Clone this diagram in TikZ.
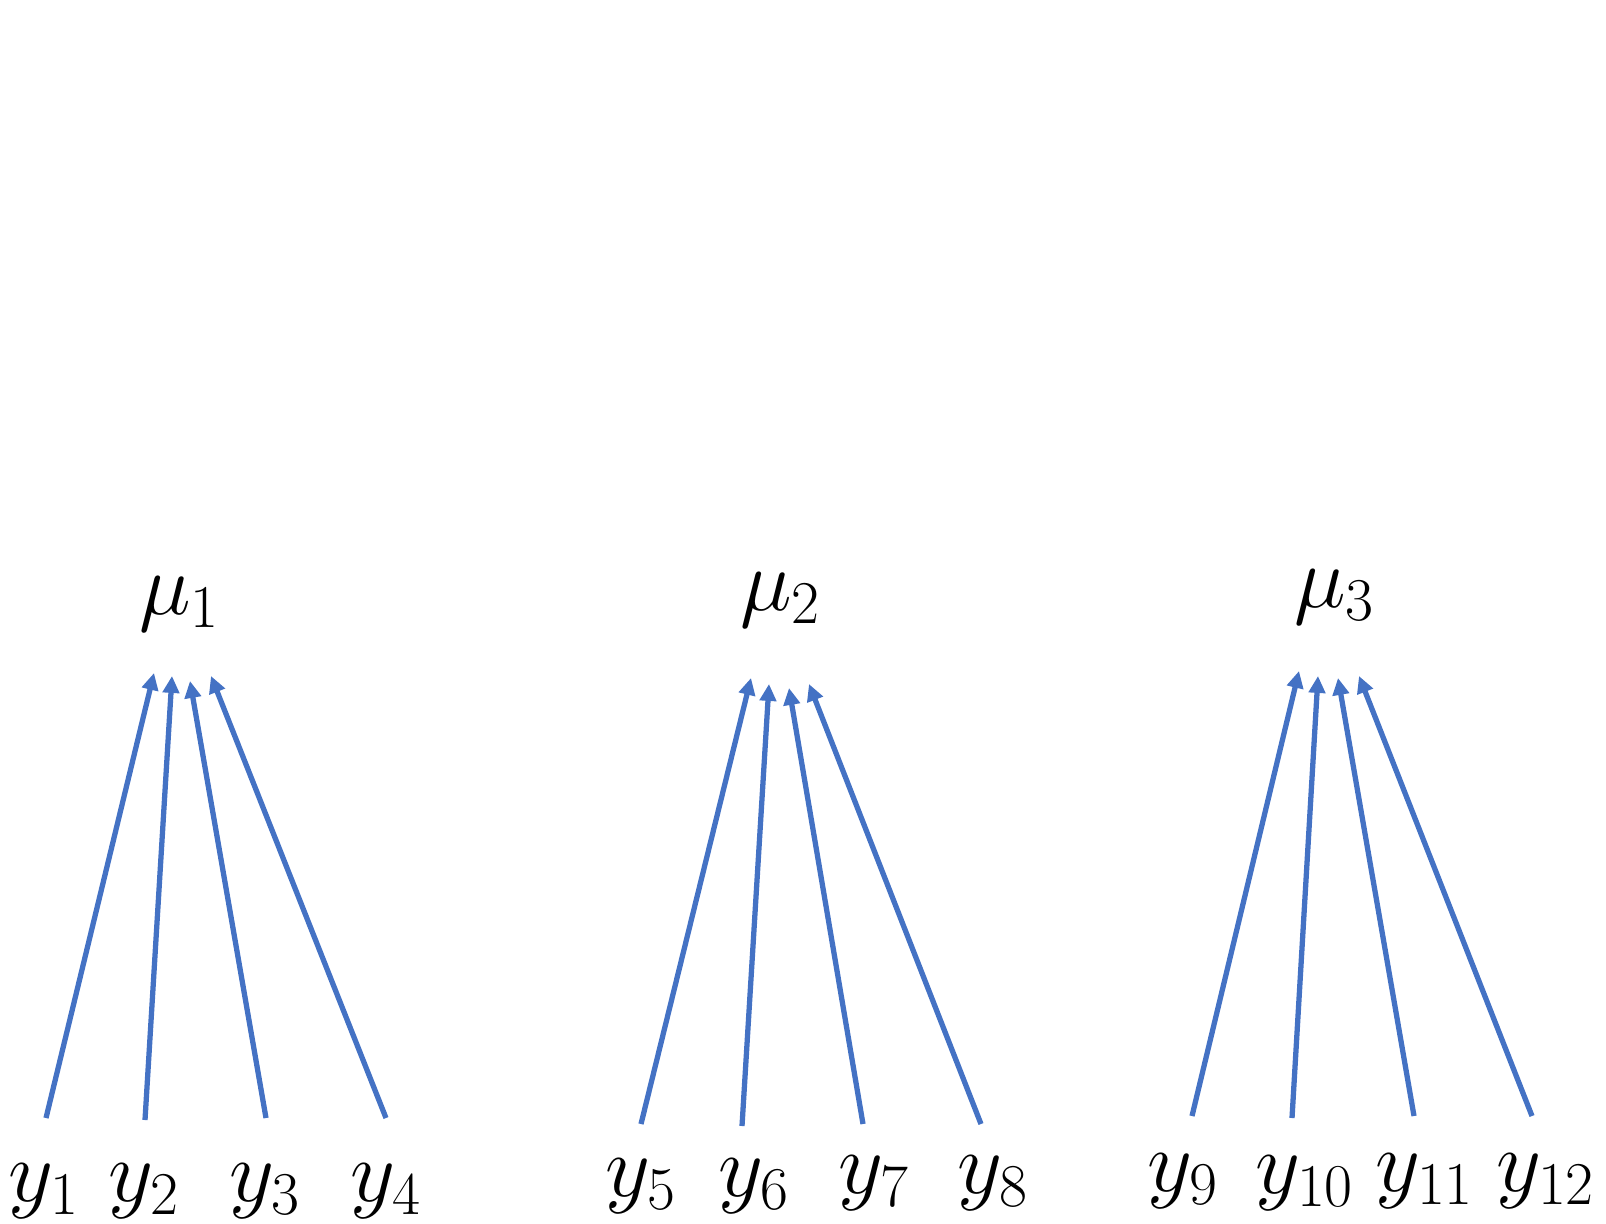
\documentclass[tikz,border=0pt]{standalone}
\usepackage{tikz}
\usetikzlibrary{arrows.meta}

\tikzset{
    var/.style={inner sep=0pt, font=\fontsize{24}{28}\selectfont},
    link/.style={draw={rgb,255:red,68;green,114;blue,196}, line width=1.5pt, -{Triangle[length=4.8pt,width=4.6pt]}}
}

\begin{document}
\begin{tikzpicture}[x=0.01cm, y=-0.01cm]
        \useasboundingbox (0, 0) rectangle (1606, 1223);  % Page

        \node[var] (mu1) at (180, 604) {$\mu_1$};  % Means
        \node[var] (mu2) at (781, 600) {$\mu_2$};
        \node[var] (mu3) at (1335, 597) {$\mu_3$};

        \node[var] (y1) at (44, 1191) {$y_1$};  % Observations
        \node[var] (y2) at (144, 1191) {$y_2$};
        \node[var] (y3) at (265, 1191) {$y_3$};
        \node[var] (y4) at (386, 1191) {$y_4$};
        \node[var] (y5) at (641, 1186) {$y_5$};
        \node[var] (y6) at (754, 1186) {$y_6$};
        \node[var] (y7) at (874, 1183) {$y_7$};
        \node[var] (y8) at (993, 1183) {$y_8$};
        \node[var] (y9) at (1183, 1181) {$y_9$};
        \node[var] (y10) at (1305, 1183) {$y_{10}$};
        \node[var] (y11) at (1425, 1181) {$y_{11}$};
        \node[var] (y12) at (1546, 1181) {$y_{12}$};

        \coordinate (t1) at (46, 1118);  \coordinate (h1) at (154, 673);  % Arrow ends
        \coordinate (t2) at (145, 1120); \coordinate (h2) at (172, 676);
        \coordinate (t3) at (266, 1118); \coordinate (h3) at (190, 681);
        \coordinate (t4) at (386, 1118); \coordinate (h4) at (211, 676);
        \coordinate (t5) at (641, 1124); \coordinate (h5) at (751, 678);
        \coordinate (t6) at (742, 1126); \coordinate (h6) at (769, 684);
        \coordinate (t7) at (863, 1124); \coordinate (h7) at (789, 688);
        \coordinate (t8) at (981, 1124); \coordinate (h8) at (809, 684);
        \coordinate (t9) at (1192, 1116); \coordinate (h9) at (1299, 671);
        \coordinate (t10) at (1292, 1118); \coordinate (h10) at (1318, 676);
        \coordinate (t11) at (1414, 1116); \coordinate (h11) at (1338, 678);
        \coordinate (t12) at (1532, 1116); \coordinate (h12) at (1359, 676);

        \draw[link] (t1) -- (h1);  % Group 1
        \draw[link] (t2) -- (h2);
        \draw[link] (t3) -- (h3);
        \draw[link] (t4) -- (h4);
        \draw[link] (t5) -- (h5);  % Group 2
        \draw[link] (t6) -- (h6);
        \draw[link] (t7) -- (h7);
        \draw[link] (t8) -- (h8);
        \draw[link] (t9) -- (h9);  % Group 3
        \draw[link] (t10) -- (h10);
        \draw[link] (t11) -- (h11);
        \draw[link] (t12) -- (h12);
    \end{tikzpicture}
\end{document}
